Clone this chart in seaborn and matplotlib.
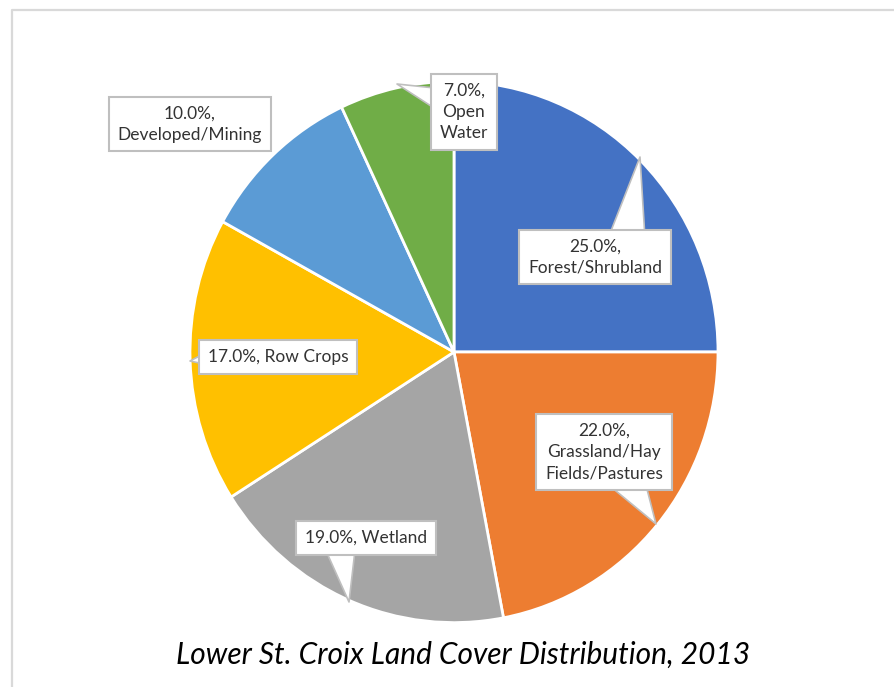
import matplotlib
matplotlib.use("Agg")
import matplotlib.pyplot as plt
import seaborn as sns

# ---- data ----
categories = ["Forest/Shrubland", "Grassland/Hay Fields/Pastures", "Wetland",
              "Row Crops", "Developed/Mining", "Open Water"]
values = [25.0, 22.0, 19.0, 17.0, 10.0, 7.0]
label_texts = ["25.0%,\nForest/Shrubland",
               "22.0%,\nGrassland/Hay\nFields/Pastures",
               "19.0%, Wetland",
               "17.0%, Row Crops",
               "10.0%,\nDeveloped/Mining",
               "7.0%,\nOpen\nWater"]
title = "Lower St. Croix Land Cover Distribution, 2013"

# ---- style ----
colors = ["#4472C4", "#ED7D31", "#A5A5A5", "#FFC000", "#5B9BD5", "#70AD47"]
sns.set_theme(style="white")
plt.rcParams["font.family"] = ["Lato", "DejaVu Sans"]

W, H = 895, 687
SY = 1.025  # slight vertical stretch of the original
fig = plt.figure(figsize=(W / 100, H / 100), dpi=100)
ax = fig.add_axes([0, 0, 1, 1])

def py(y):  # pixel-from-top -> data y
    return (H - y) / SY

center = (454, py(352))
radius = 264

ax.pie(values, colors=sns.color_palette(colors), startangle=90, counterclock=False,
       center=center, radius=radius, frame=True,
       wedgeprops=dict(edgecolor="white", linewidth=2.0))
ax.set_xlim(0, W)
ax.set_ylim(0, H / SY)
ax.set_aspect("auto")
ax.axis("off")

# callout layout: (box centre x, y), (tip x, y) or None, relpos, tail width
layout = [
    ((595, 257), (640, 157), (0.74, 1.0), 2.1),
    ((604, 452), (656, 524), (0.71, 0.0), 1.9),
    ((366, 538), (349, 602), (0.29, 0.0), 1.8),
    ((278, 357), (190, 361), (0.0, 0.40), 0.75),
    ((190, 124), None, None, None),
    ((464, 112), (397, 84), (0.0, 0.72), 1.25),
]

FS = 12.5
box = dict(boxstyle="square,pad=0.5", fc="white", ec="#BFBFBF", lw=1.5)
for txt, (bc, tip, rel, tw) in zip(label_texts, layout):
    if tip is None:
        ax.text(bc[0], py(bc[1]), txt, ha="center", va="center",
                multialignment="center", fontsize=FS, color="#333333",
                bbox=box, linespacing=1.4)
    else:
        ax.annotate(txt, xy=(tip[0], py(tip[1])), xytext=(bc[0], py(bc[1])),
                    ha="center", va="center", multialignment="center",
                    fontsize=FS, color="#333333", bbox=box, linespacing=1.4,
                    arrowprops=dict(arrowstyle=f"wedge,tail_width={tw},shrink_factor=0.5",
                                    fc="white", ec="#BFBFBF", lw=1.2,
                                    relpos=rel, patchA=None, shrinkA=0, shrinkB=0))

# chart border (top and left visible)
ax.plot([12, 12, W], [0, py(10), py(10)], color="#D9D9D9", lw=1.6, clip_on=False)

fig.text(463 / W, 1 - 655 / H, title, ha="center", va="center",
         fontsize=21.5, style="italic", color="black")

fig.savefig("out.png", dpi=100)
